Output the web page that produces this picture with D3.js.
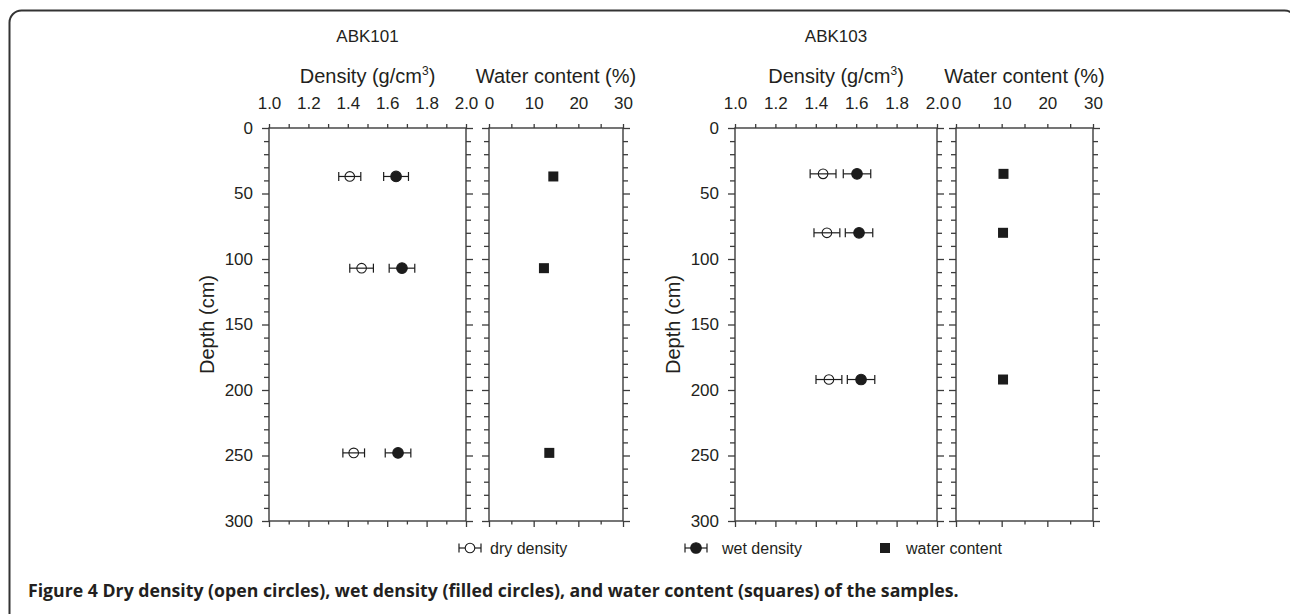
<!DOCTYPE html>
<html>
<head>
<meta charset="utf-8">
<script src="https://cdn.jsdelivr.net/npm/d3@7"></script>
<style>
  body { margin: 0; background: #fff; }
  svg text { font-family: "Liberation Sans", Arial, sans-serif; fill: #231f20; }
  .caption { font-family: "Open Sans", "Noto Sans", sans-serif; font-weight: 700; }
</style>
</head>
<body>
<svg id="fig" width="1290" height="614"></svg>
<script>
// Sample profiles: depth (cm), dry / wet bulk density (g/cm3) with error, water content (%)
const sites = ["ABK101", "ABK103"];

const depth101 = [37, 107, 248];
const dry101 = [1.41, 1.47, 1.43];
const dryErr101 = [0.056, 0.06, 0.055];
const wet101 = [1.645, 1.675, 1.655];
const wetErr101 = [0.063, 0.065, 0.065];
const water101 = [14.4, 12.3, 13.5];

const depth103 = [35, 80, 192];
const dry103 = [1.436, 1.455, 1.465];
const dryErr103 = [0.064, 0.064, 0.064];
const wet103 = [1.604, 1.614, 1.624];
const wetErr103 = [0.068, 0.068, 0.068];
const water103 = [10.4, 10.3, 10.3];

// Axis ticks and labels
const densityMajor = [1.0, 1.2, 1.4, 1.6, 1.8, 2.0];
const densityMinor = [1.1, 1.3, 1.5, 1.7, 1.9];
const waterMajor = [0, 10, 20, 30];
const waterMinor = [5, 15, 25];
const depthMajor = [0, 50, 100, 150, 200, 250, 300];
const depthMinor = d3.range(0, 301, 10).filter(d => d % 50 !== 0);

const legendLabels = ["dry density", "wet density", "water content"];
const captionBold = "Figure 4";
const captionText = " Dry density (open circles), wet density (filled circles), and water content (squares) of the samples.";

const AXIS = "#3c3c3c";
const INK = "#1c1c1c";

const svg = d3.select("#fig");

// outer rounded frame
svg.append("rect")
  .attr("x", 9.5).attr("y", 10.5)
  .attr("width", 1287).attr("height", 700)
  .attr("rx", 12)
  .attr("fill", "none").attr("stroke", "#333").attr("stroke-width", 2);

const y = d3.scaleLinear().domain([0, 300]).range([128, 521]);

function tidy(sel) {
  sel.select(".domain").remove();
  sel.selectAll(".tick line").attr("stroke", AXIS).attr("stroke-width", 1.3);
  sel.selectAll(".tick text").attr("fill", "#231f20").attr("font-size", 17)
     .attr("font-family", "Liberation Sans, Arial, sans-serif");
}

function framePanel(g, x, major, minor, fmt, showDepth) {
  const [x0, x1] = x.range();
  const [y0, y1] = y.range();

  // top: all ticks point up, labels on majors
  g.append("g").attr("transform", `translate(0,${y0})`)
    .call(d3.axisTop(x).tickValues(major).tickSize(4).tickPadding(15).tickFormat(fmt)).call(tidy);
  g.append("g").attr("transform", `translate(0,${y0})`)
    .call(d3.axisTop(x).tickValues(minor).tickSize(4).tickFormat("")).call(tidy);

  // bottom: long majors, short minors
  g.append("g").attr("transform", `translate(0,${y1})`)
    .call(d3.axisBottom(x).tickValues(major).tickSize(6).tickFormat("")).call(tidy);
  g.append("g").attr("transform", `translate(0,${y1})`)
    .call(d3.axisBottom(x).tickValues(minor).tickSize(3.5).tickFormat("")).call(tidy);

  // left and right depth ticks
  g.append("g").attr("transform", `translate(${x0},0)`)
    .call(d3.axisLeft(y).tickValues(depthMajor).tickSize(7).tickPadding(9)
      .tickFormat(showDepth ? d3.format("d") : "")).call(tidy);
  g.append("g").attr("transform", `translate(${x0},0)`)
    .call(d3.axisLeft(y).tickValues(depthMinor).tickSize(5).tickFormat("")).call(tidy);
  g.append("g").attr("transform", `translate(${x1},0)`)
    .call(d3.axisRight(y).tickValues(depthMajor).tickSize(7).tickFormat("")).call(tidy);
  g.append("g").attr("transform", `translate(${x1},0)`)
    .call(d3.axisRight(y).tickValues(depthMinor).tickSize(5).tickFormat("")).call(tidy);

  g.append("rect")
    .attr("x", x0).attr("y", y0).attr("width", x1 - x0).attr("height", y1 - y0)
    .attr("fill", "none").attr("stroke", AXIS).attr("stroke-width", 1.4);
}

function errorPoints(g, x, depths, vals, errs, filled) {
  const pts = g.append("g").selectAll("g").data(vals.map((v, i) => ({ v, e: errs[i], d: depths[i] })))
    .join("g").attr("transform", p => `translate(0,${y(p.d)})`);
  pts.append("line")
    .attr("x1", p => x(p.v - p.e)).attr("x2", p => x(p.v + p.e))
    .attr("stroke", INK).attr("stroke-width", 1.2);
  pts.append("line")
    .attr("x1", p => x(p.v - p.e)).attr("x2", p => x(p.v - p.e)).attr("y1", -4.5).attr("y2", 4.5)
    .attr("stroke", INK).attr("stroke-width", 1.2);
  pts.append("line")
    .attr("x1", p => x(p.v + p.e)).attr("x2", p => x(p.v + p.e)).attr("y1", -4.5).attr("y2", 4.5)
    .attr("stroke", INK).attr("stroke-width", 1.2);
  pts.append("circle")
    .attr("cx", p => x(p.v)).attr("r", filled ? 5.3 : 4.8)
    .attr("fill", filled ? INK : "none")
    .attr("stroke", INK).attr("stroke-width", 1.1);
}

function sitePlot(name, dens, wat, depths, dry, dryErr, wet, wetErr, water) {
  const g = svg.append("g");
  const xd = d3.scaleLinear().domain([1.0, 2.0]).range(dens);
  const xw = d3.scaleLinear().domain([0, 30]).range(wat);

  framePanel(g, xd, densityMajor, densityMinor, d3.format(".1f"), true);
  framePanel(g, xw, waterMajor, waterMinor, d3.format("d"), false);

  const dc = (dens[0] + dens[1]) / 2;
  const wc = (wat[0] + wat[1]) / 2;

  g.append("text").attr("x", dc).attr("y", 42).attr("text-anchor", "middle")
    .attr("font-size", 17).text(name);

  const dt = g.append("text").attr("x", dc).attr("y", 83).attr("text-anchor", "middle")
    .attr("font-size", 20);
  dt.append("tspan").text("Density (g/cm");
  dt.append("tspan").attr("font-size", 12).attr("dy", -8).text("3");
  dt.append("tspan").attr("dy", 8).text(")");

  g.append("text").attr("x", wc).attr("y", 83).attr("text-anchor", "middle")
    .attr("font-size", 20).text("Water content (%)");

  g.append("text")
    .attr("transform", `translate(${dens[0] - 55},${(y.range()[0] + y.range()[1]) / 2}) rotate(-90)`)
    .attr("text-anchor", "middle").attr("font-size", 20).text("Depth (cm)");

  errorPoints(g, xd, depths, dry, dryErr, false);
  errorPoints(g, xd, depths, wet, wetErr, true);

  g.append("g").selectAll("rect").data(water.map((w, i) => ({ w, d: depths[i] })))
    .join("rect")
    .attr("x", p => xw(p.w) - 5).attr("y", p => y(p.d) - 5)
    .attr("width", 10).attr("height", 10).attr("fill", INK);
}

sitePlot(sites[0], [269, 466], [489, 623], depth101, dry101, dryErr101, wet101, wetErr101, water101);
sitePlot(sites[1], [735, 937], [956, 1093], depth103, dry103, dryErr103, wet103, wetErr103, water103);

// legend
const lg = svg.append("g").attr("transform", "translate(0,548)");
function legendBar(cx, filled) {
  lg.append("line").attr("x1", cx - 11).attr("x2", cx + 11).attr("stroke", INK).attr("stroke-width", 1.2);
  [cx - 11, cx + 11].forEach(xx => lg.append("line").attr("x1", xx).attr("x2", xx)
    .attr("y1", -4.5).attr("y2", 4.5).attr("stroke", INK).attr("stroke-width", 1.2));
  lg.append("circle").attr("cx", cx).attr("r", filled ? 5.3 : 4.8)
    .attr("fill", filled ? INK : "#fff").attr("stroke", INK).attr("stroke-width", 1.1);
}
legendBar(470, false);
legendBar(696, true);
lg.append("rect").attr("x", 880).attr("y", -5).attr("width", 10).attr("height", 10).attr("fill", INK);
[[490, 0], [722, 1], [906, 2]].forEach(([lx, i]) =>
  lg.append("text").attr("x", lx).attr("y", 6).attr("font-size", 16).text(legendLabels[i]));

// caption
const cap = svg.append("text").attr("class", "caption").attr("x", 28).attr("y", 597).attr("font-size", 17.7);
cap.append("tspan").text(captionBold);
cap.append("tspan").text(captionText);
</script>
</body>
</html>
